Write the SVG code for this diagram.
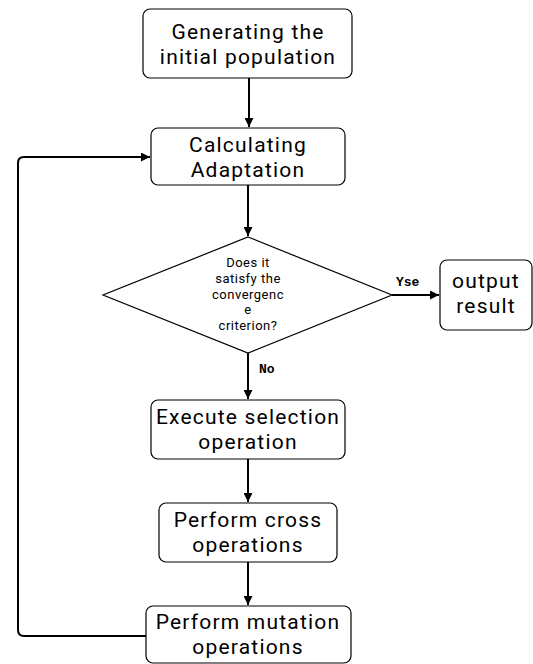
<svg xmlns="http://www.w3.org/2000/svg" width="533" height="664" viewBox="0 0 533 664">
<defs>
<style>
.box{fill:#fff;stroke:#000;stroke-width:1.2}
.t{font-family:Roboto,"Liberation Sans",sans-serif;font-size:21px;letter-spacing:1.2px;fill:#000;text-anchor:middle}
.s{font-family:Roboto,"Liberation Sans",sans-serif;font-size:13px;letter-spacing:0.5px;fill:#000;text-anchor:middle}
.lab{font-family:"Liberation Mono","DejaVu Sans Mono",monospace;font-size:13px;font-weight:bold;fill:#000}
.c{fill:none;stroke:#000;stroke-width:2}
</style>
<marker id="ah" viewBox="0 0 10 10" refX="10" refY="5" markerWidth="4.5" markerHeight="4.5" orient="auto" markerUnits="strokeWidth">
<path d="M0,0 L10,5 L0,10 z" fill="#000"/>
</marker>
</defs>
<rect width="533" height="664" fill="#fff"/>
<g id="connectors">
<line class="c" x1="249" y1="78" x2="249" y2="127" marker-end="url(#ah)"/>
<line class="c" x1="248" y1="185" x2="248" y2="236" marker-end="url(#ah)"/>
<line class="c" x1="392" y1="295" x2="439" y2="295" marker-end="url(#ah)"/>
<line class="c" x1="248" y1="353" x2="248" y2="399" marker-end="url(#ah)"/>
<line class="c" x1="248" y1="459" x2="248" y2="502" marker-end="url(#ah)"/>
<line class="c" x1="248" y1="562" x2="248" y2="605" marker-end="url(#ah)"/>
<path class="c" d="M146,636 L24,636 Q18,636 18,630 L18,163 Q18,157 24,157 L150,157" marker-end="url(#ah)"/>
<text class="lab" x="396" y="286">Yse</text>
<text class="lab" x="259" y="373">No</text>
</g>
<g id="n1">
<rect class="box" x="143" y="9" width="209" height="69" rx="7"/>
<text class="t" x="248" y="39">Generating the</text>
<text class="t" x="248" y="64">initial population</text>
</g>
<g id="n2">
<rect class="box" x="151" y="128" width="194" height="57" rx="7"/>
<text class="t" x="248" y="152">Calculating</text>
<text class="t" x="248" y="177">Adaptation</text>
</g>
<g id="n3">
<polygon class="box" points="248,237 392,295 248,353 103,295"/>
<text class="s" x="248" y="267">Does it</text>
<text class="s" x="248" y="283">satisfy the</text>
<text class="s" x="248" y="299">convergenc</text>
<text class="s" x="248" y="314">e</text>
<text class="s" x="248" y="330">criterion?</text>
</g>
<g id="n4">
<rect class="box" x="440" y="260" width="92" height="70" rx="7"/>
<text class="t" x="486" y="288">output</text>
<text class="t" x="486" y="313">result</text>
</g>
<g id="n5">
<rect class="box" x="151" y="400" width="194" height="59" rx="7"/>
<text class="t" x="248" y="424">Execute selection</text>
<text class="t" x="248" y="449">operation</text>
</g>
<g id="n6">
<rect class="box" x="159" y="503" width="178" height="59" rx="7"/>
<text class="t" x="248" y="527">Perform cross</text>
<text class="t" x="248" y="552">operations</text>
</g>
<g id="n7">
<rect class="box" x="146" y="606" width="205" height="57" rx="7"/>
<text class="t" x="248" y="629">Perform mutation</text>
<text class="t" x="248" y="654">operations</text>
</g>
</svg>
